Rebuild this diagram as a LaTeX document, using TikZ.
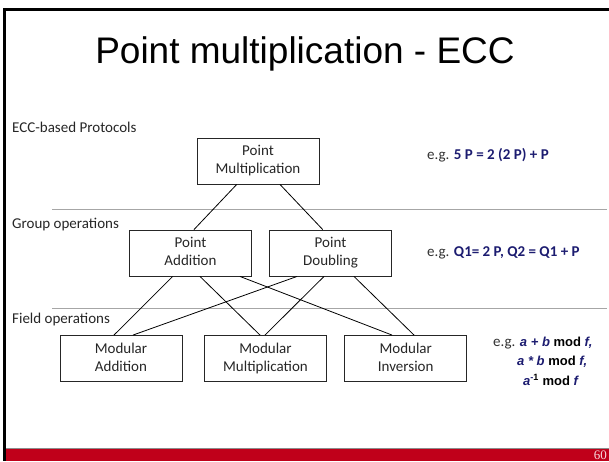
\documentclass[tikz,border=0pt]{standalone}
\usepackage{fontspec}
\setmainfont{Carlito}
\newfontfamily\arialf{Liberation Sans}
\newfontfamily\timesf{Liberation Serif}
\definecolor{navy}{RGB}{28,28,112}
\definecolor{barred}{RGB}{192,0,26}
\definecolor{eggray}{RGB}{50,50,50}
\newcommand{\bstr}{\rule[-4.5pt]{0pt}{16pt}}
\newcommand{\bl}[2]{\bstr #1\\\bstr #2}
\begin{document}
\begin{tikzpicture}[x=1pt,y=-1pt,
  opbox/.style={draw=black!85, line width=0.9pt, minimum width=122pt, minimum height=46pt, align=center, inner sep=0pt, font=\fontsize{15}{18}\selectfont, text=black!85},
  link/.style={draw=black, line width=0.8pt},
  sep/.style={draw=black!35, line width=1pt},
  lvl/.style={anchor=west, font=\fontsize{15}{18}\selectfont, text=black!85, inner sep=0pt},
  ex/.style={anchor=west, font=\fontsize{15}{18}\selectfont, text=eggray, inner sep=0pt},
  exb/.style={anchor=west, font=\arialf\bfseries\fontsize{13}{15}\selectfont, text=black, inner sep=0pt}]
\useasboundingbox (0,0) rectangle (609,461);
% frame
\fill[black] (3,8) rectangle (609,10.5);
\fill[black] (3,8) rectangle (6,461);
\fill[barred] (6,449) rectangle (609,461);
\draw[black!45, line width=0.8pt] (6,448.5) -- (609,448.5);
\node[anchor=east, inner sep=0pt, text=white!85!barred, font=\timesf\fontsize{13}{13}\selectfont] (pg) at (607,455) {60};
% title
\node[anchor=base, inner sep=0pt, font=\arialf\fontsize{37}{40}\selectfont] (title) at (305,63) {Point multiplication - ECC};
% level separators
\coordinate (s1a) at (52,209.5); \coordinate (s1b) at (607,209.5);
\coordinate (s2a) at (52,308.5); \coordinate (s2b) at (607,308.5);
\draw[sep] (s1a) -- (s1b);
\draw[sep] (s2a) -- (s2b);
% level labels
\node[lvl] (l1) at (12,127) {ECC-based Protocols};
\node[lvl] (l2) at (12,225) {Group operations};
\node[lvl] (l3) at (12,319) {Field operations};
% boxes
\node[opbox] (pm) at (258,161) {\bl{Point}{Multiplication}};
\node[opbox] (pa) at (190.5,253) {\bl{Point}{Addition}};
\node[opbox] (pd) at (330.5,253) {\bl{Point}{Doubling}};
\node[opbox] (ma) at (121,358.5) {\bl{Modular}{Addition}};
\node[opbox] (mm) at (265.5,358.5) {\bl{Modular}{Multiplication}};
\node[opbox] (mi) at (405.7,358.5) {\bl{Modular}{Inversion}};
% connectors
\draw[link] ([xshift=-21.3pt]pm.south) -- ([xshift=3.5pt]pa.north);
\draw[link] ([xshift=22pt]pm.south) -- ([xshift=-7.8pt]pd.north);
\draw[link] ([xshift=-17.8pt]pa.south) -- ([xshift=-7pt]ma.north);
\draw[link] ([xshift=9.5pt]pa.south) -- ([xshift=-5.5pt]mm.north);
\draw[link] ([xshift=49.5pt]pa.south) -- ([xshift=-13.7pt]mi.north);
\draw[link] ([xshift=-33.5pt]pd.south) -- ([xshift=12pt]ma.north);
\draw[link] ([xshift=-6.5pt]pd.south) -- ([xshift=-0.5pt]mm.north);
\draw[link] ([xshift=23.5pt]pd.south) -- ([xshift=8.3pt]mi.north);
% examples
\node[ex] (e1) at (427,155) {e.g. \textcolor{navy}{\textbf{5 P = 2 (2 P) + P}}};
\node[ex] (e2) at (427,253) {e.g. \textcolor{navy}{\textbf{Q1= 2 P, Q2 = Q1 + P}}};
\node[ex] (e3a) at (493,343) {e.g. {\arialf\bfseries\fontsize{13}{15}\selectfont\textcolor{navy}{\itshape a + b} \textcolor{black}{mod} \textcolor{navy}{\itshape f,}}};
\node[exb] (e3b) at (517,362) {\textcolor{navy}{\itshape a * b} mod \textcolor{navy}{\itshape f,}};
\node[exb] (e3c) at (523,380) {\textcolor{navy}{\itshape a}\textsuperscript{\textcolor{navy}{-}1} mod \textcolor{navy}{\itshape f}};
\end{tikzpicture}
\end{document}
